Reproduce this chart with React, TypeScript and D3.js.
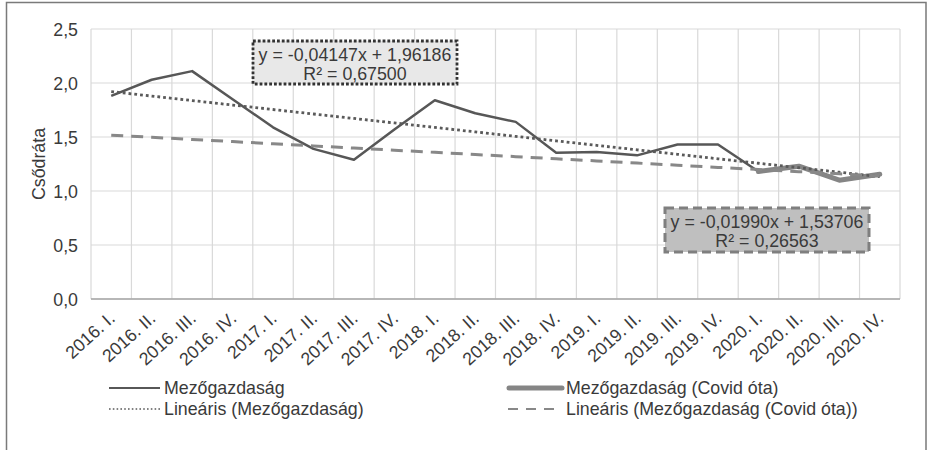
import React from "react";
import * as d3 from "d3";

const categories = [
  "2016. I.", "2016. II.", "2016. III.", "2016. IV.",
  "2017. I.", "2017. II.", "2017. III.", "2017. IV.",
  "2018. I.", "2018. II.", "2018. III.", "2018. IV.",
  "2019. I.", "2019. II.", "2019. III.", "2019. IV.",
  "2020. I.", "2020. II.", "2020. III.", "2020. IV.",
];
const mezogazdasag = [
  1.88, 2.03, 2.11, 1.85, 1.59, 1.39, 1.29, 1.57, 1.84, 1.72,
  1.64, 1.355, 1.36, 1.33, 1.43, 1.43, 1.18, 1.23, 1.10, 1.155,
];
// Covid period (2020. I. – 2020. IV.)
const covidCategories = ["2020. I.", "2020. II.", "2020. III.", "2020. IV."];
const covidValues = [1.18, 1.23, 1.10, 1.155];

// Trendline coefficients as displayed: y = slope*x + intercept
const trendAll = { slope: -0.04147, intercept: 1.96186, r2: "0,67500", label: "y = -0,04147x + 1,96186" };
const trendCovid = { slope: -0.0199, intercept: 1.53706, r2: "0,26563", label: "y = -0,01990x + 1,53706" };

const yTicks = [0, 0.5, 1.0, 1.5, 2.0, 2.5];
const legendLabels = [
  "Mezőgazdaság",
  "Mezőgazdaság (Covid óta)",
  "Lineáris (Mezőgazdaság)",
  "Lineáris (Mezőgazdaság (Covid óta))",
];

const W = 930;
const H = 450;
const plot = { left: 91, right: 900, top: 29, bottom: 299 };
const FONT = "'Liberation Sans', Arial, Helvetica, sans-serif";
const TXT = "#3a3a3a";
const FS = 17.8;

export default function App() {
  const x = d3.scaleBand<string>().domain(categories).range([plot.left, plot.right]).padding(0);
  const y = d3.scaleLinear().domain([0, 2.5]).range([plot.bottom, plot.top]);
  const cx = (c: string) => (x(c) as number) + x.bandwidth() / 2;
  const fmt = (v: number) => d3.format(".1f")(v).replace(".", ",");

  const line = d3
    .line<[string, number]>()
    .x((d) => cx(d[0]))
    .y((d) => y(d[1]));

  const mainPath = line(categories.map((c, i) => [c, mezogazdasag[i]] as [string, number]));
  const covidPath = line(covidCategories.map((c, i) => [c, covidValues[i]] as [string, number]));
  const trendPts = (t: { slope: number; intercept: number }) =>
    categories.map((c, i) => [c, t.slope * (i + 1) + t.intercept] as [string, number]);
  const trendAllPath = line(trendPts(trendAll));
  const trendCovidPath = line(trendPts(trendCovid));

  const boundaries = d3.range(categories.length + 1).map((i) => plot.left + i * x.bandwidth());

  return (
    <svg
      width={W}
      height={H}
      style={{ position: "absolute", left: 0, top: 0, background: "#fff" }}
      fontFamily={FONT}
    >
      <rect x={0} y={0} width={W} height={H} fill="#fff" />
      {/* outer frame */}
      <path d={`M6.5,${H + 5} V2.5 H926 V${H + 5}`} fill="none" stroke="#7a7a7a" strokeWidth={1.5} />

      {/* gridlines */}
      {yTicks.map((t) => (
        <line key={"h" + t} x1={plot.left} x2={plot.right} y1={y(t)} y2={y(t)} stroke="#d9d9d9" strokeWidth={1.2} />
      ))}
      {boundaries.map((bx, i) => (
        <line key={"v" + i} x1={bx} x2={bx} y1={plot.top} y2={plot.bottom} stroke="#d9d9d9" strokeWidth={1.2} />
      ))}
      <line x1={plot.left} x2={plot.right} y1={plot.bottom} y2={plot.bottom} stroke="#a6a6a6" strokeWidth={1.5} />

      {/* y tick labels */}
      {yTicks.map((t) => (
        <text key={"yl" + t} x={78} y={y(t) + 6.5} textAnchor="end" fontSize={FS} fill={TXT}>
          {fmt(t)}
        </text>
      ))}
      <text
        transform={`translate(45,${(plot.top + plot.bottom) / 2}) rotate(-90)`}
        textAnchor="middle"
        fontSize={FS}
        fill={TXT}
      >
        Csődráta
      </text>

      {/* x tick labels */}
      {categories.map((c) => (
        <text
          key={"xl" + c}
          transform={`translate(${cx(c) + 5},${plot.bottom + 21}) rotate(-42)`}
          textAnchor="end"
          fontSize={FS}
          fill={TXT}
        >
          {c}
        </text>
      ))}

      {/* series */}
      <path d={mainPath ?? ""} fill="none" stroke="#575757" strokeWidth={2.5} strokeLinejoin="round" />
      <path d={covidPath ?? ""} fill="none" stroke="#858585" strokeWidth={5} strokeLinejoin="round" strokeLinecap="round" />
      <path d={trendAllPath ?? ""} fill="none" stroke="#5a5a5a" strokeWidth={2.8} strokeDasharray="2.8,3" />
      <path d={trendCovidPath ?? ""} fill="none" stroke="#888" strokeWidth={3} strokeDasharray="12,8" />

      {/* equation box 1 */}
      <rect x={253} y={41} width={204} height={43} fill="#e8e8e8" stroke="#333" strokeWidth={2.8} strokeDasharray="2.8,2" />
      <text x={355} y={61} textAnchor="middle" fontSize={FS} fill={TXT}>
        {trendAll.label}
      </text>
      <text x={355} y={80} textAnchor="middle" fontSize={FS} fill={TXT}>
        R² = {trendAll.r2}
      </text>

      {/* equation box 2 */}
      <rect x={665} y={208} width={204} height={44} fill="#bfbfbf" stroke="#7f7f7f" strokeWidth={3} strokeDasharray="9,5" />
      <text x={767} y={228} textAnchor="middle" fontSize={FS} fill={TXT}>
        {trendCovid.label}
      </text>
      <text x={767} y={247} textAnchor="middle" fontSize={FS} fill={TXT}>
        R² = {trendCovid.r2}
      </text>

      {/* legend */}
      <line x1={109} x2={160} y1={388} y2={388} stroke="#575757" strokeWidth={2.2} />
      <text x={164} y={394} fontSize={FS} fill={TXT}>{legendLabels[0]}</text>
      <line x1={509} x2={562} y1={388} y2={388} stroke="#858585" strokeWidth={5} strokeLinecap="round" />
      <text x={566} y={394} fontSize={FS} fill={TXT}>{legendLabels[1]}</text>
      <line x1={109} x2={160} y1={409} y2={409} stroke="#5a5a5a" strokeWidth={1.6} strokeDasharray="1.6,2.2" />
      <text x={164} y={415} fontSize={FS} fill={TXT}>{legendLabels[2]}</text>
      <line x1={508} x2={562} y1={409} y2={409} stroke="#888" strokeWidth={2} strokeDasharray="10,8" />
      <text x={566} y={415} fontSize={FS} fill={TXT}>{legendLabels[3]}</text>
    </svg>
  );
}
